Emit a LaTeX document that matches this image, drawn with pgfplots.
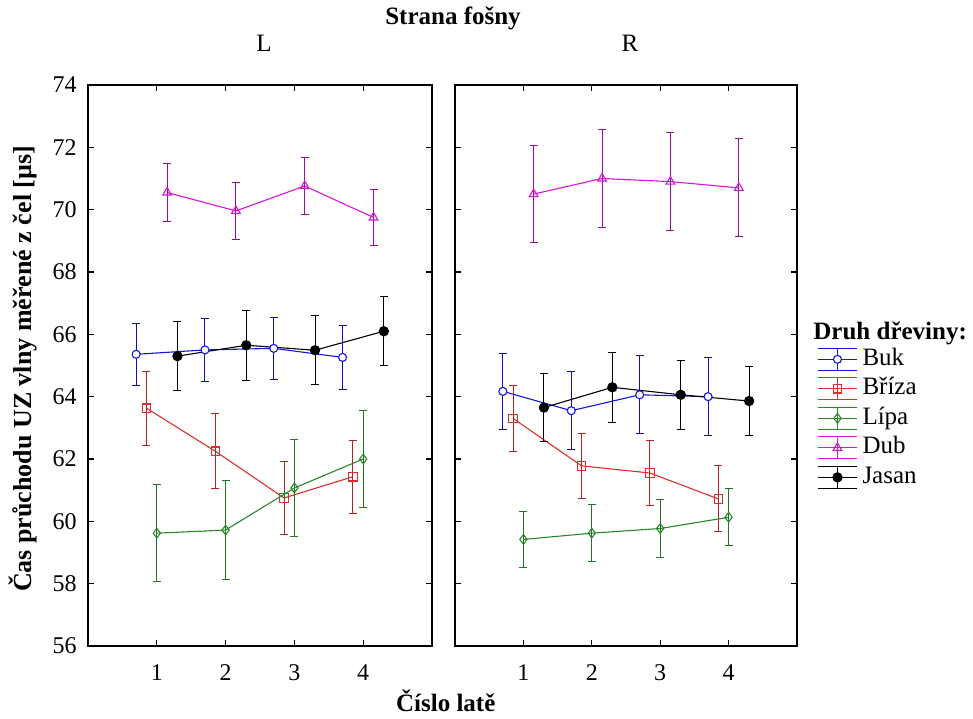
\documentclass[border=0pt]{standalone}
\usepackage{fontspec}
\setmainfont{Liberation Serif}
\usepackage{pgfplots}
\pgfplotsset{compat=1.18}

\definecolor{cbuk}{RGB}{20,20,225}
\definecolor{cbriza}{RGB}{222,45,45}
\definecolor{clipa}{RGB}{40,135,40}
\definecolor{cdub}{RGB}{215,20,215}
\definecolor{cjasan}{RGB}{0,0,0}

\pgfplotsset{
  panel/.style={
    scale only axis, height=280.5pt,
    xmin=0, xmax=5, ymin=56, ymax=74,
    xtick={1,2,3,4}, ytick={56,58,...,74},
    tick align=inside, xtick pos=both, ytick pos=both,
    major tick length=3pt,
    axis line style={line width=0.6pt},
    every tick/.style={black, line width=0.6pt},
    /pgf/number format/assume math mode=true,
    ticklabel style={font=\fontsize{12}{14}\selectfont},
    xticklabel style={yshift=-5pt},
    yticklabel style={xshift=-1.5pt},
    title style={at={(0.5,1)}, anchor=center, yshift=15pt, xshift=2pt, font=\fontsize{12.5}{14}\selectfont},
    clip=false,
  },
  ser/.style n args={2}{
    color=#1, line width=0.55pt, mark options={solid, line width=0.55pt},
    error bars/y dir=both, error bars/y explicit,
    error bars/error bar style={line width=0.5pt, color=#2},
    error bars/error mark options={rotate=90, line width=0.5pt, color=#2, mark size=2pt},
  },
  errleg/.style={legend image code/.code={
      \draw[##1, mark=none] (0pt,5.5pt) -- (19.5pt,5.5pt);
      \draw[##1, mark=none] (0pt,-5.5pt) -- (19.5pt,-5.5pt);
      \draw[##1, mark=none] (9.75pt,-5.5pt) -- (9.75pt,5.5pt);
      \draw[##1, mark repeat=2, mark phase=2] plot coordinates {(0pt,0pt) (9.75pt,0pt) (19.5pt,0pt)};
  }},
  sbuk/.style={ser={cbuk}{cbuk!75!black}, mark=*, mark size=2pt, mark options={fill=white}},
  sbriza/.style={ser={cbriza}{cbriza!80!black}, mark=square, mark size=2.1pt},
  slipa/.style={ser={clipa}{clipa!85!black}, mark=diamond, mark size=2.4pt},
  sdub/.style={ser={cdub}{cdub!70!black}, mark=triangle, mark size=2.5pt},
  sjasan/.style={ser={cjasan}{cjasan}, mark=*, mark size=2.3pt, mark options={fill=black}},
}

\begin{document}
\fontsize{12}{14}\selectfont
\begin{tikzpicture}[font=\fontsize{12}{14}\selectfont]
\path[use as bounding box] (0pt,0pt) rectangle (486.5pt,359pt);

\begin{axis}[panel, at={(44pt,36pt)}, anchor=south west, width=172pt,
  title={L},
  ylabel={\textbf{Čas průchodu UZ vlny měřené z čel [µs]}},
  ylabel style={at={(axis description cs:-0.19,0.494)}, anchor=center, font=\fontsize{13}{15}\selectfont},
  xlabel={\textbf{Číslo latě}},
  xlabel style={at={(axis description cs:1.04,-0.098)}, anchor=center, font=\fontsize{12.5}{14}\selectfont},
]
\addplot[sbuk] coordinates {(0.7,65.36) +- (0,1.0) (1.7,65.5) +- (0,1.0) (2.7,65.55) +- (0,1.0) (3.7,65.26) +- (0,1.02)};
\addplot[sbriza] coordinates {(0.85,63.63) +- (0,1.19) (1.85,62.25) +- (0,1.2) (2.85,60.75) +- (0,1.18) (3.85,61.43) +- (0,1.17)};
\addplot[slipa] coordinates {(1,59.62) +- (0,1.55) (2,59.72) +- (0,1.58) (3,61.07) +- (0,1.57) (4,62.0) +- (0,1.57)};
\addplot[sdub] coordinates {(1.15,70.55) +- (0,0.92) (2.15,69.96) +- (0,0.92) (3.15,70.76) +- (0,0.92) (4.15,69.75) +- (0,0.9)};
\addplot[sjasan] coordinates {(1.3,65.3) +- (0,1.1) (2.3,65.65) +- (0,1.12) (3.3,65.49) +- (0,1.1) (4.3,66.1) +- (0,1.1)};
\end{axis}

\begin{axis}[panel, at={(227.5pt,36pt)}, anchor=south west, width=171pt,
  title={R}, yticklabels={},
  errleg,
  legend style={at={(axis description cs:1.0585,0.538)}, anchor=north west, draw=none, fill=none,
    inner sep=0pt, row sep=0pt, column sep=0pt,
    font=\fontsize{12.5}{14}\selectfont,
    nodes={text height=8.7pt, text depth=2.75pt, inner ysep=1.65pt, inner xsep=2.5pt}},
  legend cell align=left,
]
\addplot[sbuk] coordinates {(0.7,64.17) +- (0,1.23) (1.7,63.55) +- (0,1.25) (2.7,64.06) +- (0,1.25) (3.7,64.0) +- (0,1.26)};
\addplot[sbriza] coordinates {(0.85,63.3) +- (0,1.06) (1.85,61.78) +- (0,1.05) (2.85,61.55) +- (0,1.05) (3.85,60.72) +- (0,1.06)};
\addplot[slipa] coordinates {(1,59.42) +- (0,0.91) (2,59.62) +- (0,0.91) (3,59.77) +- (0,0.92) (4,60.13) +- (0,0.91)};
\addplot[sdub] coordinates {(1.15,70.5) +- (0,1.56) (2.15,71.0) +- (0,1.58) (3.15,70.9) +- (0,1.58) (4.15,70.7) +- (0,1.57)};
\addplot[sjasan] coordinates {(1.3,63.65) +- (0,1.1) (2.3,64.3) +- (0,1.12) (3.3,64.06) +- (0,1.1) (4.3,63.86) +- (0,1.12)};
\legend{Buk, Bříza, Lípa, Dub, Jasan}
\end{axis}

\node[font=\bfseries\fontsize{12.5}{14}\selectfont, anchor=center] at (226.5pt,350pt) {Strana fošny};
\node[font=\bfseries\fontsize{12.5}{14}\selectfont, anchor=west, inner sep=0pt] at (406.5pt,192.5pt) {Druh dřeviny:};
\end{tikzpicture}
\end{document}
